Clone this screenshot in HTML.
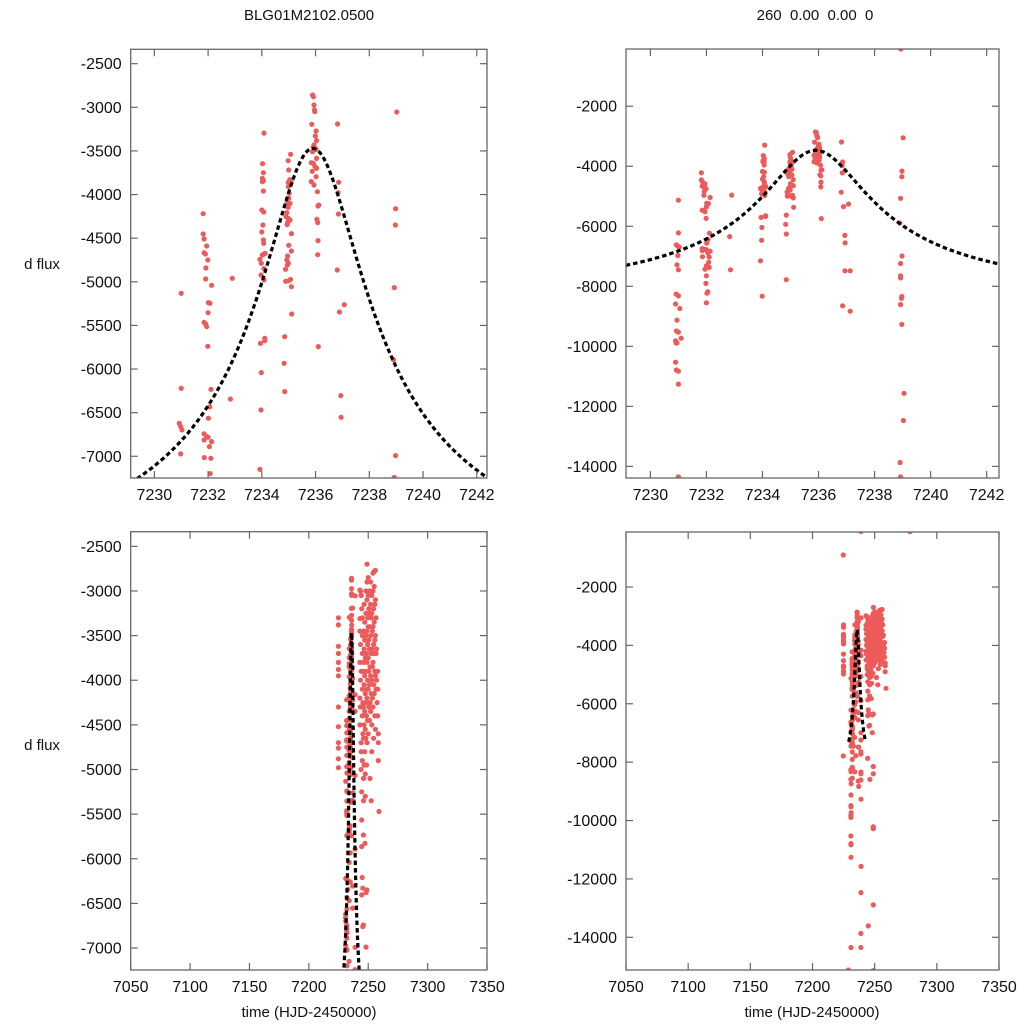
<!DOCTYPE html>
<html><head><meta charset="utf-8">
<style>
html,body{margin:0;padding:0;background:#fff;width:1024px;height:1024px;overflow:hidden;}
svg{display:block;font-family:"Liberation Sans",Arial,sans-serif;}
</style></head>
<body>
<svg id="chart" width="1024" height="1024" viewBox="0 0 1024 1024" xmlns="http://www.w3.org/2000/svg">
<rect x="0" y="0" width="1024" height="1024" fill="#fff"/>
<text x="309" y="20" font-size="15" text-anchor="middle" fill="#111">BLG01M2102.0500</text>
<text x="815" y="20" font-size="15" text-anchor="middle" fill="#111" xml:space="preserve">260  0.00  0.00  0</text>
<text x="42" y="269" font-size="15" text-anchor="middle" fill="#111">d flux</text>
<text x="42" y="750" font-size="15" text-anchor="middle" fill="#111">d flux</text>
<text x="309" y="1017" font-size="15" text-anchor="middle" fill="#111">time (HJD-2450000)</text>
<text x="812" y="1017" font-size="15" text-anchor="middle" fill="#111">time (HJD-2450000)</text>
</svg>
<script>
// observed data (time, d flux)
const obsTime = [
7231.0,7231.0,7230.93,7230.98,7231.03,7230.98,
7231.82,7231.82,7231.85,7231.85,7231.90,7231.95,7231.92,7231.99,7231.91,7232.01,7232.07,7232.13,7232.0,7231.85,7231.91,7231.95,7231.99,7232.11,7232.06,7232.01,7231.85,7231.95,7232.0,7231.85,7232.05,7232.13,7231.86,7232.10,7232.08,
7232.90,7232.83,
7234.08,7234.03,7234.06,7234.02,7234.06,7234.02,7234.06,7234.0,7234.07,7234.04,7234.06,7234.0,7234.07,7234.08,7234.02,7233.93,7233.98,7234.08,7233.97,7234.08,7234.12,7233.95,7234.11,7234.11,7233.98,7233.97,7233.93,
7234.98,7235.07,7235.0,7235.04,7235.09,7234.98,7235.05,7234.99,7235.02,7235.0,7234.94,7235.05,7234.98,7234.93,7234.90,7234.98,7235.05,7234.96,7234.94,7235.10,7235.0,7235.10,7234.96,7234.93,7234.99,7234.95,7234.88,7235.07,7234.89,7235.0,7235.10,7235.11,7234.85,7234.83,7234.85,
7235.89,7235.92,7235.94,7235.96,7235.97,7235.86,7236.02,7235.99,7236.04,7235.94,7235.91,7235.98,7235.89,7236.02,7236.04,7235.84,7235.92,7235.98,7235.88,7236.04,7236.02,7235.84,7235.94,7236.07,7236.12,7236.09,7236.05,7236.08,7236.09,7236.08,7236.10,
7236.82,7236.86,7236.84,7236.85,7236.81,7236.89,7237.07,7236.94,7236.95,
7239.02,7238.98,7238.97,7238.93,7238.90,7238.98,7238.93,
7230.95,7231.0,7230.92,7231.0,7230.9,7231.05,7230.95,7230.93,7231.0,7231.1,7230.9,7230.95,7230.92,7230.9,7230.93,7231.0,7231.0,7231.0,
7232.0,7232.1,7231.95,7232.0,7231.98,7232.05,7232.02,7232.0,
7232.86,7233.99,7234.85,
7236.86,7237.13,7236.94,7237.13,
7238.94,7238.93,7238.93,7238.97,7238.96,7238.93,7238.97,7239.05,7239.03,7238.91,7238.93,
7278.4,7224.8,7224.8,7248.9,7248.9,7248.9,7244.9,7228.8,7248.9,7244.4,7248.9,7248.9,7246.2,7244.9,7245.4,7248.9,7245.4,7248.1,7259.1,7244.5,7245.9,7247.3,7244.5,7248.1,7245.9,7244.5,
7224.9,7224.9,7224.9,7224.9,7224.9,7224.9,7224.9,7224.9,7224.9,7224.9,7224.9,7224.9,7224.9,
7243.5,7244,7244.2,7243,7243,7243,7243.5,7243,7243.5,7243,7243.4,7243,7244,7244,7244,7244.5,7244,7244.5,7245,7245,7245,7245.5,7245,7245.5,7245,7245.5,7245,7246,7246,7246.5,7246,7246.5,7246,7246.5,7246,7246.5,7246,7246.5,
7247,7247,7247.5,7247,7247.5,7247,7247.5,7247,7247.5,7247.5,7248,7248,7248,7248.5,7248,7248.5,7248,7248.5,7248,7248.5,
7249,7249,7249,7249.5,7249,7249.5,7249,7249.5,7249,7249.5,7249,7250,7250,7250.5,7250,7250.5,7250,7250.5,7250,7250.5,7250,
7251,7251,7251.5,7251,7251.5,7251,7251.5,7251,7251.5,7252,7252,7252.5,7252,7252.5,7252,7252.5,7252,7252.5,
7253,7253,7253.5,7253,7253.5,7253,7253.5,7253,7253,7254,7254,7254.5,7254,7254.5,7254,7254.5,7254,7254.5,
7255,7255,7255.5,7255,7255.5,7255,7255.5,7255,7255.5,7256,7256,7256.5,7256,7256.5,7256,7256.5,7256,
7257,7257,7257.5,7258,7258,7258.5,7258.5,7258,7258.5
];
const obsFlux = [
-5132,-6221,-6622,-6660,-6698,-6973,
-4219,-4452,-4509,-4666,-4681,-4590,-4842,-4750,-4968,-5239,-5246,-5040,-5354,-5464,-5484,-5514,-5739,-6232,-6434,-6564,-6744,-6774,-6782,-6813,-6889,-6832,-7015,-7023,-7199,
-4960,-6343,
-3295,-3646,-3749,-3814,-3841,-3852,-3959,-4177,-4200,-4349,-4521,-4429,-4559,-4681,-4693,-4742,-4788,-4849,-4922,-4979,-4674,-5705,-5648,-5674,-6041,-6469,-7149,
-3612,-3539,-3719,-3829,-3852,-3860,-3871,-3910,-3986,-4043,-4093,-4101,-4146,-4208,-4253,-4272,-4292,-4322,-4345,-4448,-4582,-4647,-4704,-4750,-4788,-4807,-4857,-4971,-4994,-4987,-5056,-5369,-5629,-5934,-6259,
-2859,-2878,-2974,-3031,-3050,-3195,-3272,-3329,-3382,-3432,-3459,-3470,-3508,-3482,-3585,-3635,-3642,-3680,-3734,-3699,-3795,-3852,-3890,-3967,-4120,-4131,-4284,-4322,-4528,-4689,-5743,
-3191,-3860,-3978,-4223,-4865,-5346,-5262,-6305,-6553,
-3054,-4162,-4349,-5067,-5892,-6992,-7241,
-7285,-7450,-8260,-8320,-8590,-8740,-9125,-9490,-9530,-9730,-9820,-9890,-9890,-10530,-10790,-10830,-11260,-14350,
-7320,-7370,-7430,-7650,-7905,-8180,-8230,-8550,
-7450,-8330,-7780,
-8650,-8830,-7485,-7485,
-94,-7650,-7720,-8340,-8400,-8610,-9270,-11570,-12470,-13870,-14350,
-104,-904,-7790,-10210,-10280,-12890,-13610,-15120,-15140,-7870,-8150,-8400,-8590,-6210,-6330,-6350,-6760,-6990,-5470,-5566,-5734,-5827,-5864,-6380,-6742,-6405,
-3300,-3380,-3620,-3700,-3800,-3880,-3950,-4300,-4520,-4700,-4760,-4880,-4980,
-3000,-3050,-3050,-2990,-3310,-3450,-3600,-3800,-4000,-4200,-4300,-4500,-4700,-4800,-5000,-5250,-3900,-3200,-3300,-3500,-3700,-3900,-4100,-4250,-4400,-4600,-4900,-5100,-5350,-3150,-3450,-3650,-3800,-4050,-4300,-4500,-4650,-4950,
-3350,-3550,-3750,-3950,-4150,-4350,-4550,-4800,-5050,-5300,-3000,-3250,-3500,-3700,-3900,-4100,-4250,-4400,-4650,-4950,
-2700,-2900,-3100,-3300,-3450,-3600,-3800,-4000,-4200,-4450,-4700,-2850,-3050,-3200,-3400,-3550,-3750,-3900,-4100,-4300,-4600,
-3000,-3250,-3400,-3650,-3850,-4050,-4250,-4450,-5100,-2900,-3150,-3300,-3500,-3700,-3950,-4150,-4350,-5350,
-3050,-3250,-3450,-3650,-3850,-4000,-4200,-4500,-4800,-2800,-3000,-3200,-3400,-3600,-3800,-4050,-4300,-4650,
-2780,-2950,-3150,-3350,-3550,-3700,-3900,-4150,-4400,-2770,-3100,-3300,-3500,-3700,-3950,-4100,-4550,
-3650,-4000,-4250,-3900,-4100,-4600,-4900,-4400,-4700
];
// model parameters
const modelParams = [7235.9, 1.9, 5250, -8720]; // t0, width, amplitude, baseline
const modelRange = [7229.12, 7242.4];
// tick labels
const ticksZoomX = [7230,7232,7234,7236,7238,7240,7242];
const ticksWideX = [7050,7100,7150,7200,7250,7300,7350];
const ticksY1 = [-2500,-3000,-3500,-4000,-4500,-5000,-5500,-6000,-6500,-7000];
const ticksY2 = [-2000,-4000,-6000,-8000,-10000,-12000,-14000];

const panels = [
 {name:'top-left', L:130.7,R:487,T:49.3,B:478, x0:7229.12,x1:7242.38, yT:-2335,yB:-7249, xt:ticksZoomX, yt:ticksY1},
 {name:'top-right', L:626,R:999,T:49,B:478, x0:7229.13,x1:7242.44, yT:-94,yB:-14387, xt:ticksZoomX, yt:ticksY2},
 {name:'bottom-left', L:130.7,R:487,T:531.7,B:970, x0:7050,x1:7350, yT:-2336,yB:-7246, xt:ticksWideX, yt:ticksY1},
 {name:'bottom-right', L:626,R:999,T:532,B:970, x0:7050,x1:7350, yT:-116,yB:-15120, xt:ticksWideX, yt:ticksY2}
];
const NS='http://www.w3.org/2000/svg';
const svg=document.getElementById('chart');
function mk(tag,attrs,parent){const e=document.createElementNS(NS,tag);for(const k in attrs)e.setAttribute(k,attrs[k]);(parent||svg).appendChild(e);return e;}
function model(t){const p=modelParams;const d=(t-p[0])/p[1];return p[3]+p[2]/Math.sqrt(1+d*d);}
const defs=mk('defs',{});
panels.forEach((P,i)=>{
  const sx=v=>P.L+(v-P.x0)/(P.x1-P.x0)*(P.R-P.L);
  const sy=v=>P.T+(v-P.yT)/(P.yB-P.yT)*(P.B-P.T);
  const cp=mk('clipPath',{id:'clip'+i},defs);
  mk('rect',{x:P.L,y:P.T,width:P.R-P.L,height:P.B-P.T},cp);
  const g=mk('g',{});
  
  
  const pts=mk('g',{'clip-path':'url(#clip'+i+')'},g);
  
  
  for(let k=0;k<obsTime.length;k++){
    const c=mk('circle',{cx:sx(obsTime[k]).toFixed(1),cy:sy(obsFlux[k]).toFixed(1),r:2.6,fill:'#ec5a5a'},pts);
    
    
  }
  let d='';
  for(let s=0;s<=300;s++){const t=modelRange[0]+(modelRange[1]-modelRange[0])*s/300;d+=(s?'L':'M')+sx(t).toFixed(2)+' '+sy(model(t)).toFixed(2);}
  const line=mk('path',{d:d,fill:'none',stroke:'#000','stroke-width':3.2,'stroke-dasharray':'4.5 3','clip-path':'url(#clip'+i+')'},g);
  
  
  const fr=mk('rect',{x:P.L,y:P.T,width:P.R-P.L,height:P.B-P.T,fill:'none',stroke:'#666','stroke-width':1.3},g);
  
  
  P.xt.forEach(v=>{
    const x=sx(v);
    mk('line',{x1:x,x2:x,y1:P.B,y2:P.B-7,stroke:'#666','stroke-width':1.2},g);
    mk('line',{x1:x,x2:x,y1:P.T,y2:P.T+7,stroke:'#666','stroke-width':1.2},g);
    const tx=mk('text',{x:x,y:P.B+22,'font-size':16,'text-anchor':'middle',fill:'#111'},g);
    tx.textContent=v;
    
    
  });
  P.yt.forEach(v=>{
    const y=sy(v);
    mk('line',{x1:P.L,x2:P.L+7,y1:y,y2:y,stroke:'#666','stroke-width':1.2},g);
    mk('line',{x1:P.R,x2:P.R-7,y1:y,y2:y,stroke:'#666','stroke-width':1.2},g);
    const ty=mk('text',{x:P.L-9,y:y+5.5,'font-size':16,'text-anchor':'end',fill:'#111'},g);
    ty.textContent=v;
    
    
  });
});
</script>
</body></html>
